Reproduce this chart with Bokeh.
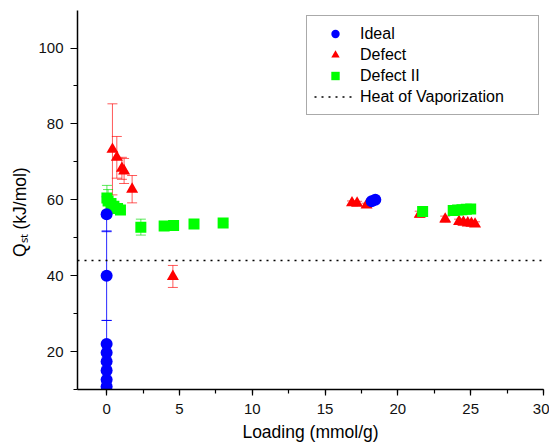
from bokeh.plotting import figure
from bokeh.models import (ColumnDataSource, Whisker, TeeHead, Legend, LegendItem,
                          SingleIntervalTicker, Range1d)
from bokeh.embed import file_html
from bokeh.resources import INLINE

# ---------------- data ----------------
ideal_x = [0.0, 0.0, 0.0, 0.0, 0.0, 0.0, 0.0, 0.0, 18.2, 18.45]
ideal_y = [10.8, 12.6, 15.0, 17.4, 19.7, 22.0, 40.0, 56.2, 59.6, 60.0]
ideal_err = [0, 0, 0, 0, 0, 6.2, 11.8, 4.6, 0, 0]

defect_x = [0.4, 0.7, 1.05, 1.2, 1.75, 4.55, 16.85, 17.2, 17.85, 21.5, 23.25,
            24.2, 24.5, 24.8, 25.05, 25.3]
defect_y = [73.3, 71.2, 68.3, 67.6, 62.8, 39.8, 59.2, 59.1, 58.6, 56.2, 54.9,
            54.3, 54.1, 53.9, 53.8, 53.6]
defect_err = [12.0, 5.5, 2.9, 3.3, 3.6, 2.9, 0.5, 0.5, 0.5, 0.8, 0.8,
              0.6, 0.6, 0.6, 0.6, 0.6]

defect2_x = [0.02, 0.1, 0.3, 0.5, 0.75, 0.95, 2.35, 3.95, 4.6, 6.0, 8.0,
             21.7, 23.8, 24.1, 24.4, 24.7, 25.0]
defect2_y = [60.5, 59.7, 59.0, 58.3, 57.7, 57.3, 52.8, 53.1, 53.2, 53.6, 53.9,
             56.9, 57.2, 57.3, 57.4, 57.5, 57.6]
defect2_err = [3.3, 3.0, 1.0, 0.8, 0.6, 0.5, 2.1, 0.4, 0.4, 0.4, 0.4,
               0.4, 0.3, 0.3, 0.3, 0.3, 0.3]

heat_of_vaporization = 44.0

series_labels = ["Ideal", "Defect", "Defect II", "Heat of Vaporization"]
x_title = "Loading (mmol/g)"
# trailing no-break spaces push the visible title a little down the axis
y_title = "Q\u209b\u209c (kJ/mol)" + "\u00a0" * 5

x_lo, x_hi = -2, 30
y_lo, y_hi = 10, 109.9

FONT = "Liberation Sans"

p = figure(width=549, height=444, output_backend="svg", toolbar_location=None,
           x_range=Range1d(x_lo, x_hi), y_range=Range1d(y_lo, y_hi),
           min_border_left=77, min_border_right=6, min_border_top=10,
           min_border_bottom=55)
p.outline_line_color = None
p.grid.visible = False

for ax in (p.xaxis[0], p.yaxis[0]):
    ax.axis_line_color = "black"
    ax.axis_line_width = 1.5
    ax.major_tick_line_color = "black"
    ax.minor_tick_line_color = "black"
    ax.major_tick_line_width = 1.2
    ax.minor_tick_line_width = 1.2
    ax.major_tick_in = 0
    ax.minor_tick_in = 0
    ax.major_label_text_font = FONT
    ax.major_label_text_font_size = "15px"
    ax.major_label_text_color = "#111111"
    ax.major_label_text_line_height = 1.0
    ax.axis_label_text_font = FONT
    ax.axis_label_text_font_size = "17.5px"
    ax.axis_label_text_font_style = "normal"
    ax.axis_label_text_color = "black"
    ax.axis_label_text_line_height = 1.0

p.xaxis.ticker = SingleIntervalTicker(interval=5, num_minor_ticks=2)
p.yaxis.ticker = SingleIntervalTicker(interval=20, num_minor_ticks=2)
p.xaxis.major_tick_out = 6
p.xaxis.minor_tick_out = 4
p.yaxis.major_tick_out = 7
p.yaxis.minor_tick_out = 4
p.xaxis.major_label_standoff = 8
p.yaxis.major_label_standoff = 7
p.xaxis.axis_label = x_title
p.yaxis.axis_label = y_title
p.xaxis.axis_label_standoff = 5
p.yaxis.axis_label_standoff = 5


def add_errors(xs, ys, es, color, alpha):
    pts = [(x, y, e) for x, y, e in zip(xs, ys, es) if e > 0]
    src = ColumnDataSource(dict(x=[t[0] for t in pts],
                                lo=[t[1] - t[2] for t in pts],
                                hi=[t[1] + t[2] for t in pts]))
    w = Whisker(base="x", lower="lo", upper="hi", source=src, dimension="height",
                line_color=color, line_alpha=alpha, line_width=1,
                upper_head=TeeHead(size=10, line_color=color, line_alpha=alpha, line_width=1),
                lower_head=TeeHead(size=10, line_color=color, line_alpha=alpha, line_width=1),
                level="underlay")
    p.add_layout(w)


add_errors(defect_x, defect_y, defect_err, "#ff0000", 0.65)
add_errors(defect2_x, defect2_y, defect2_err, "#00dd00", 0.65)
add_errors(ideal_x, ideal_y, ideal_err, "#0000ff", 0.85)

r_def = p.scatter(defect_x, defect_y, marker="triangle", size=12,
                  fill_color="#ff0000", line_color=None)
r_def2 = p.scatter(defect2_x, defect2_y, marker="square", size=11,
                   fill_color="#00ff00", line_color=None)
r_ideal = p.scatter(ideal_x, ideal_y, marker="circle", size=12,
                    fill_color="#0000ff", line_color=None)

r_hv = p.line(x=[x_lo, x_hi], y=[heat_of_vaporization, heat_of_vaporization],
              line_color="black", line_dash="2 5", line_width=1.5)

legend = Legend(items=[LegendItem(label=series_labels[0], renderers=[r_ideal]),
                       LegendItem(label=series_labels[1], renderers=[r_def]),
                       LegendItem(label=series_labels[2], renderers=[r_def2]),
                       LegendItem(label=series_labels[3], renderers=[r_hv])],
                location=(229, 274), padding=7, spacing=0, margin=0,
                glyph_width=42, glyph_height=21, label_height=21,
                label_width=171, label_standoff=4,
                label_text_font=FONT, label_text_font_size="16px",
                label_text_color="black",
                border_line_color="#555555", border_line_width=1,
                background_fill_color="white", background_fill_alpha=1)
p.add_layout(legend)

open("out.html", "w").write(file_html(p, INLINE))
